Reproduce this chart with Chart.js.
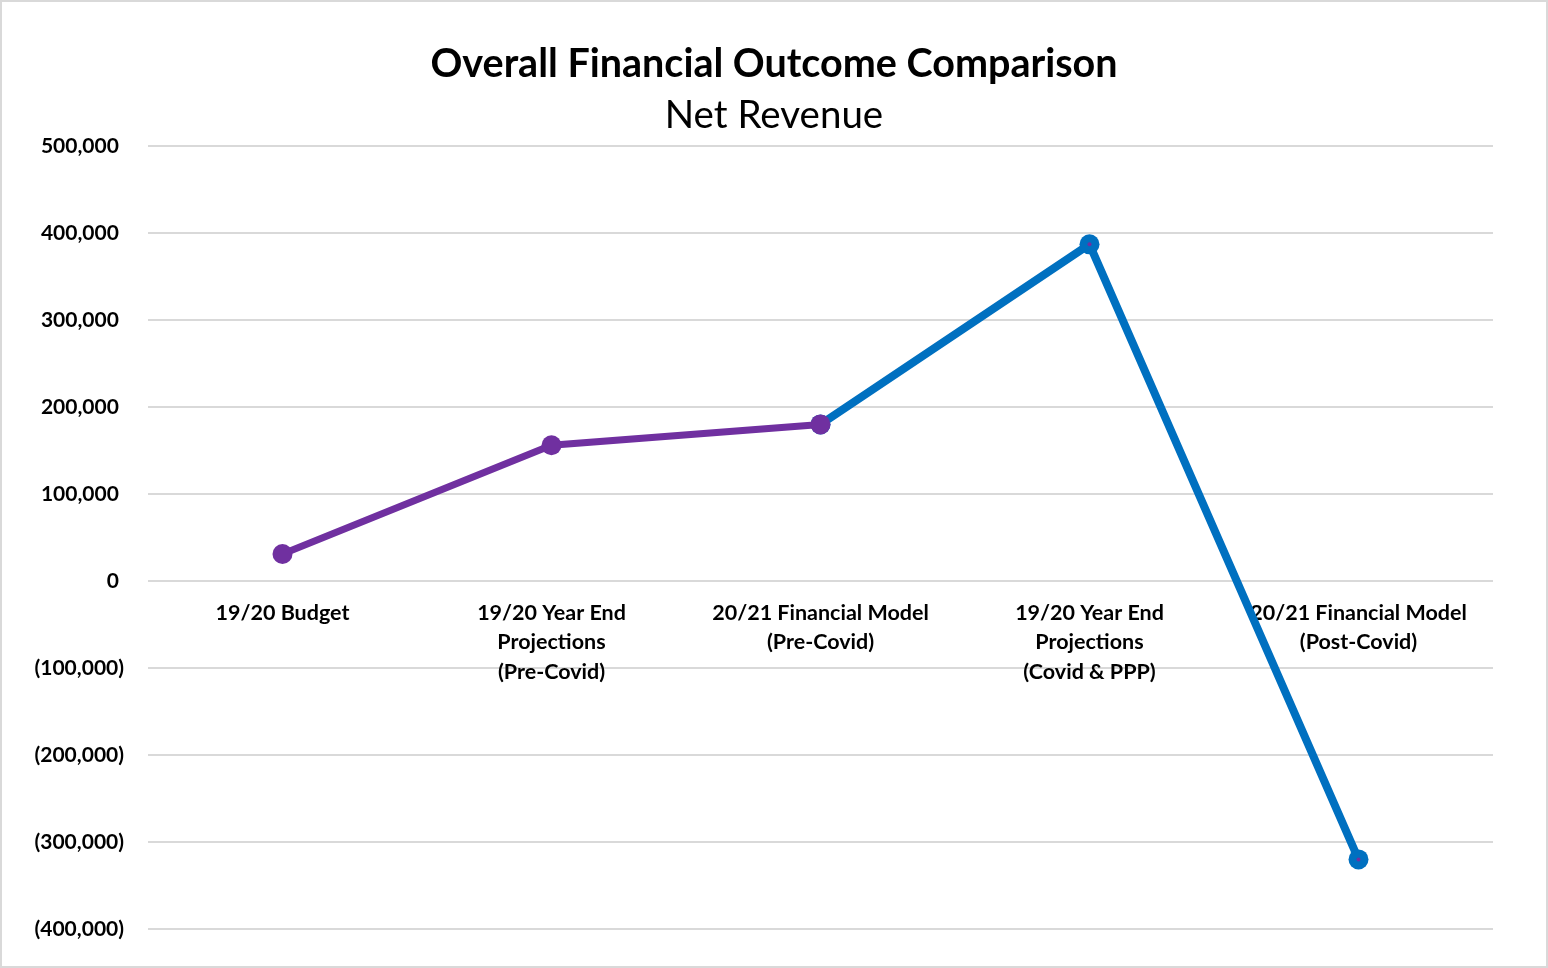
<!DOCTYPE html>
<html>
<head>
<meta charset="utf-8">
<script src="https://cdn.jsdelivr.net/npm/chart.js@4.4.1/dist/chart.umd.min.js"></script>
<style>
  html, body { margin: 0; padding: 0; background: #ffffff; }
  #wrap { position: relative; width: 1548px; height: 968px; }
</style>
</head>
<body>
<div id="wrap"><canvas id="c"></canvas></div>
<script>
// ---- data ----
const categories = [
  ['19/20 Budget'],
  ['19/20 Year End', 'Projections', '(Pre-Covid)'],
  ['20/21 Financial Model', '(Pre-Covid)'],
  ['19/20 Year End', 'Projections', '(Covid & PPP)'],
  ['20/21 Financial Model', '(Post-Covid)']
];
const preCovidSeries = [31000, 156000, 180000, 387000, -320000];
const covidSeries = [null, null, 180000, 387000, -320000];
const preCovidLineEnd = 2;
const yMin = -400000;
const yMax = 500000;
const yStep = 100000;
const chartTitle = 'Overall Financial Outcome Comparison';
const chartSubtitle = 'Net Revenue';

const PURPLE = '#7030A0';
const BLUE = '#0070C0';
const FONT = 'Lato, "Open Sans", sans-serif';

const borderPlugin = {
  id: 'outerBorder',
  beforeDraw(chart) {
    const ctx = chart.ctx;
    ctx.save();
    ctx.fillStyle = '#ffffff';
    ctx.fillRect(0, 0, chart.width, chart.height);
    ctx.strokeStyle = '#d9d9d9';
    ctx.lineWidth = 2;
    ctx.strokeRect(1, 1, chart.width - 2, chart.height - 2);
    ctx.restore();
  }
};

function fmt(v) {
  const s = Math.abs(v).toLocaleString('en-US');
  return v < 0 ? '(' + s + ')' : s + ' ';
}

new Chart(document.getElementById('c'), {
  type: 'line',
  data: {
    labels: categories,
    datasets: [
      {
        label: 'Pre-Covid',
        data: preCovidSeries,
        borderColor: PURPLE,
        backgroundColor: PURPLE,
        borderWidth: 7,
        pointBackgroundColor: PURPLE,
        pointBorderWidth: 0,
        pointRadius: ctx => ctx.dataIndex > preCovidLineEnd ? 2 : 10,
        pointHoverRadius: ctx => ctx.dataIndex > preCovidLineEnd ? 2 : 10,
        segment: {
          borderColor: ctx => ctx.p1DataIndex > preCovidLineEnd ? 'rgba(0,0,0,0)' : PURPLE
        },
        tension: 0,
        fill: false
      },
      {
        label: 'Covid',
        data: covidSeries,
        borderColor: BLUE,
        backgroundColor: BLUE,
        borderWidth: 8,
        pointBackgroundColor: BLUE,
        pointBorderWidth: 0,
        pointRadius: 10,
        pointHoverRadius: 10,
        tension: 0,
        fill: false
      }
    ]
  },
  options: {
    responsive: true,
    maintainAspectRatio: false,
    animation: false,
    layout: { padding: { top: 0, right: 0, bottom: 39, left: 0 } },
    plugins: {
      legend: { display: false },
      tooltip: { enabled: false },
      title: {
        display: true,
        text: chartTitle,
        color: '#000000',
        font: { family: FONT, size: 39.5, weight: 'bold', lineHeight: 1.2 },
        padding: { top: 40.3, bottom: 0 }
      },
      subtitle: {
        display: true,
        text: chartSubtitle,
        color: '#000000',
        font: { family: FONT, size: 38.5, weight: 'normal', lineHeight: 1.2 },
        padding: { top: 5.2, bottom: 6.9 }
      }
    },
    scales: {
      x: {
        type: 'category',
        offset: true,
        position: { y: 0 },
        grid: { display: false, drawTicks: false },
        border: { display: false },
        ticks: {
          color: '#000000',
          font: { family: FONT, size: 21.5, weight: 'bold', lineHeight: 1.35 },
          padding: 18,
          maxRotation: 0,
          autoSkip: false
        }
      },
      y: {
        min: yMin,
        max: yMax,
        afterFit(scale) { scale.width = 148; },
        grid: { color: '#d9d9d9', lineWidth: 2, drawTicks: false },
        border: { display: false },
        ticks: {
          stepSize: yStep,
          color: '#000000',
          font: { family: FONT, size: 21, weight: 'bold' },
          padding: 24,
          callback: v => fmt(v)
        }
      },
      rightSpacer: {
        type: 'linear',
        position: 'right',
        display: true,
        afterFit(scale) { scale.width = 55; },
        grid: { display: false, drawTicks: false },
        border: { display: false },
        ticks: { display: false }
      }
    }
  },
  plugins: [borderPlugin]
});
</script>
</body>
</html>
